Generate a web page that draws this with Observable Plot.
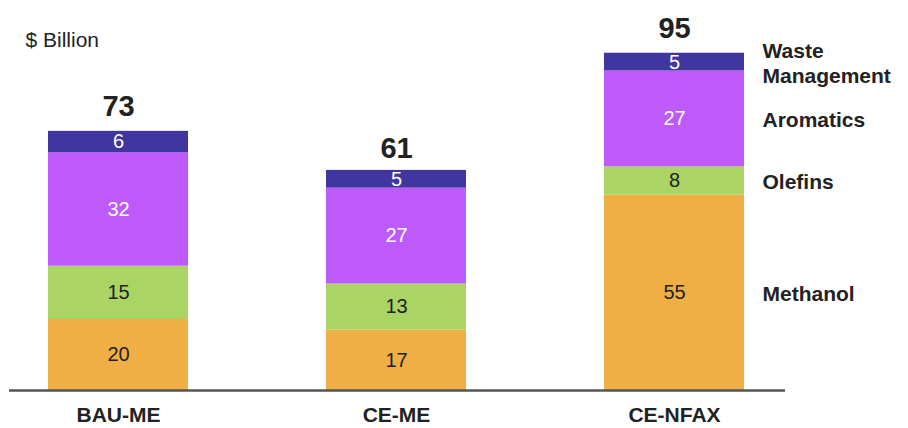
<!DOCTYPE html>
<html><head><meta charset="utf-8">
<script src="https://cdn.jsdelivr.net/npm/d3@7"></script>
<script src="https://cdn.jsdelivr.net/npm/@observablehq/plot@0.6"></script>
<style>body{margin:0;background:#fff;font-family:"Liberation Sans",Arial,sans-serif;overflow:hidden;}</style>
</head><body><div id="chart"></div>
<script>
const categories = ["BAU-ME", "CE-ME", "CE-NFAX"];
const seriesNames = ["Methanol", "Olefins", "Aromatics", "Waste Management"];
const methanol = [20, 17, 55];
const olefins = [15, 13, 8];
const aromatics = [32, 27, 27];
const waste = [6, 5, 5];
const totals = [73, 61, 95];
const colors = ["#F0AF45", "#AAD464", "#BE59FA", "#41359F"];
const labelColors = ["#222", "#222", "#fff", "#fff"];

const seriesValues = [methanol, olefins, aromatics, waste];
const rows = [];
categories.forEach((c, i) => {
  let base = 0;
  seriesValues.forEach((vals, s) => {
    rows.push({cat: c, series: seriesNames[s], value: vals[i], y1: base, y2: base + vals[i], mid: base + vals[i] / 2, s});
    base += vals[i];
  });
});
const totalRows = categories.map((c, i) => ({cat: c, total: totals[i]}));
const lastCat = categories[categories.length - 1];
const legendRows = rows.filter(d => d.cat === lastCat).map(d => ({...d, label: d.series === "Waste Management" ? "Waste\nManagement" : d.series}));

const chart = Plot.plot({
  width: 908, height: 428,
  marginLeft: 9, marginRight: 123, marginTop: 0, marginBottom: 0,
  style: {fontFamily: '"Liberation Sans", Arial, sans-serif', background: "#fff"},
  x: {domain: categories, range: [47, 744], paddingInner: 0.4973, paddingOuter: 0, axis: null},
  y: {domain: [0, 100], range: [390, 35], axis: null},
  color: {domain: seriesNames, range: colors},
  marks: [
    Plot.rectY(rows, {x: "cat", y1: "y1", y2: "y2", fill: "series"}),
    Plot.text(rows, {x: "cat", y: "mid", text: d => String(d.value), fill: d => labelColors[d.s], fontSize: 20}),
    Plot.text(totalRows, {x: "cat", y: "total", text: d => String(d.total), dy: -25, fontSize: 29, fontWeight: "bold", fill: "#222"}),
    Plot.text(legendRows, {x: "cat", y: "mid", text: "label", dx: 88, textAnchor: "start", fontSize: 21, fontWeight: "bold", fill: "#222", lineHeight: 1.2}),
    Plot.text(categories, {x: d => d, y: 0, text: d => d, dy: 25, fontSize: 21, fontWeight: "bold", fill: "#222"}),
    Plot.ruleY([0], {stroke: "#555", strokeWidth: 2.5}),
    Plot.text(["$ Billion"], {frameAnchor: "top-left", dx: 16, dy: 40, lineAnchor: "middle", textAnchor: "start", fontSize: 21, fill: "#222"})
  ]
});
document.getElementById("chart").appendChild(chart);
</script></body></html>
